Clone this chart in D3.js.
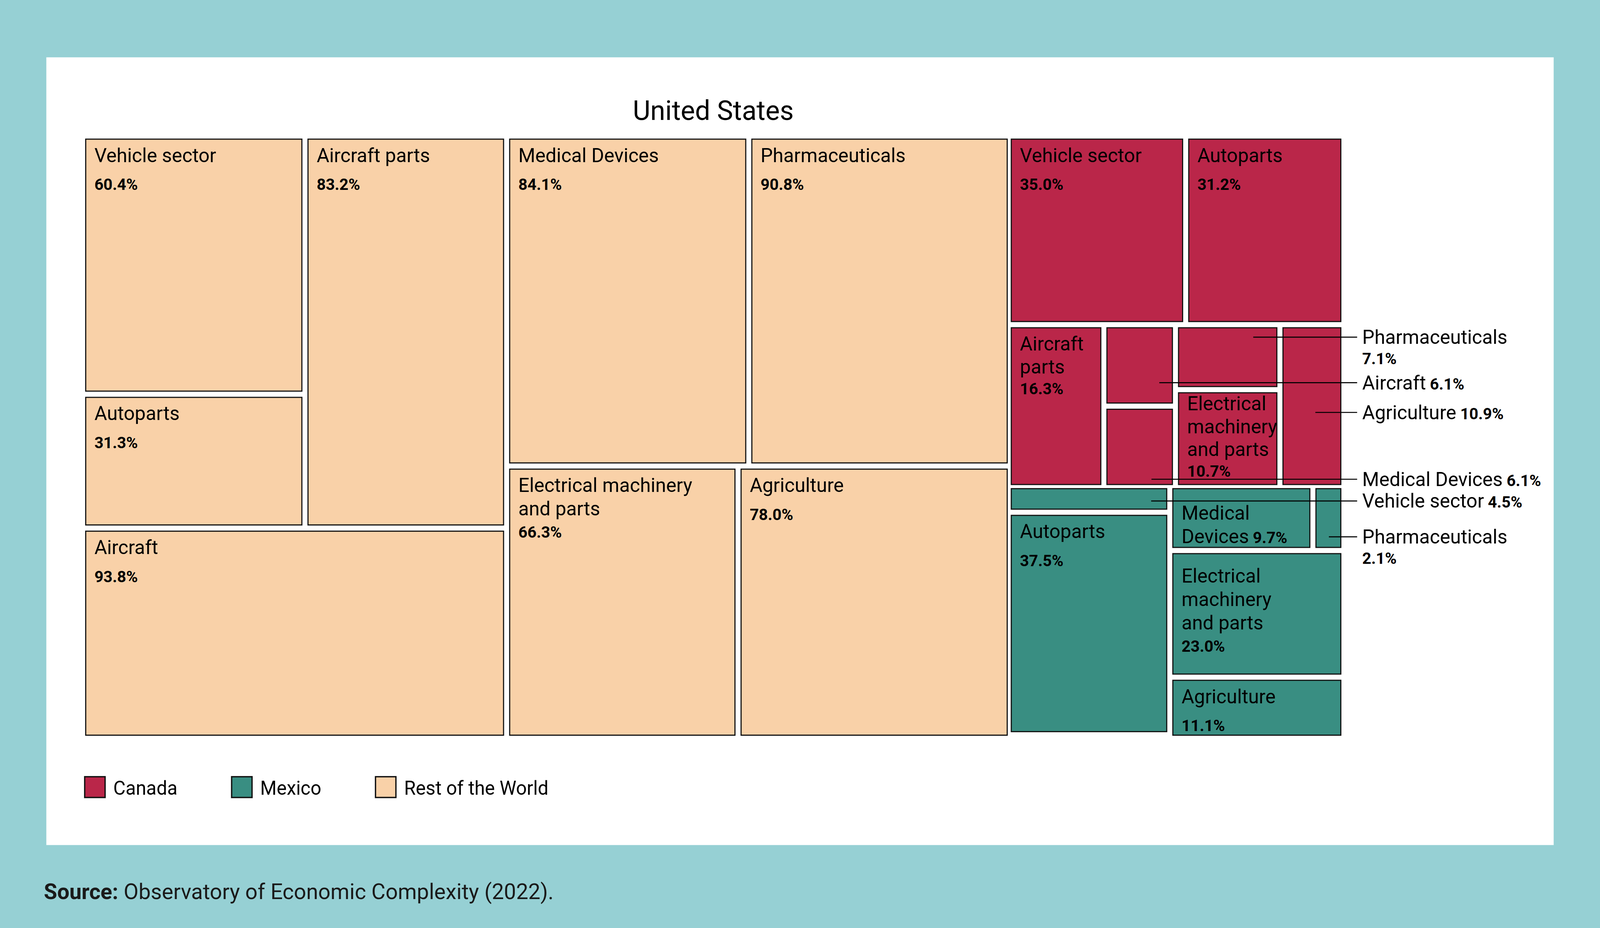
<!DOCTYPE html>
<html><head><meta charset="utf-8">
<script src="https://cdn.jsdelivr.net/npm/d3@7"></script>
<style>html,body{margin:0;padding:0;background:#96D0D4;overflow:hidden;width:100%;height:100%;} svg{display:block;}</style>
</head><body>
<svg id="chart"></svg>
<script>
// ---------------- DATA ----------------
const title = "United States";
const groups = ["Rest of the World", "Canada", "Mexico"];
const sectors = ["Vehicle sector", "Autoparts", "Aircraft parts", "Aircraft", "Medical Devices", "Pharmaceuticals", "Electrical machinery and parts", "Agriculture"];
const restOfWorldShare = [60.4, 31.3, 83.2, 93.8, 84.1, 90.8, 66.3, 78.0];
const canadaShare      = [35.0, 31.2, 16.3, 6.1, 6.1, 7.1, 10.7, 10.9];
const mexicoShare      = [4.5, 37.5, 0.5, 0.1, 9.7, 2.1, 23.0, 11.1];
const groupColors = ["#F9D1A8", "#BA2649", "#398E82"];
const legendOrder = ["Canada", "Mexico", "Rest of the World"];
const sourceBold = "Source:";
const sourceText = " Observatory of Economic Complexity (2022).";

// label wrapping (text content)
const wrapped = {
  "Rest of the World|Electrical machinery and parts": ["Electrical machinery", "and parts"],
  "Canada|Aircraft parts": ["Aircraft", "parts"],
  "Canada|Electrical machinery and parts": ["Electrical", "machinery", "and parts"],
  "Mexico|Medical Devices": ["Medical", "Devices"],
  "Mexico|Electrical machinery and parts": ["Electrical", "machinery", "and parts"]
};
const inlinePct = {"Mexico|Medical Devices": true};

// ---------------- LAYOUT ----------------
const W = 1568, H = 1568 * 2375 / 4167;
const vw = window.innerWidth || 4167, vh = window.innerHeight || 2375;
const svg = d3.select("#chart")
  .attr("width", vw).attr("height", vh)
  .attr("viewBox", `0 0 ${W} ${H}`)
  .attr("preserveAspectRatio", "none")
  .style("font-family", "Roboto, 'Noto Sans', sans-serif");

svg.append("rect").attr("width", W).attr("height", H).attr("fill", "#96D0D4");
svg.append("rect").attr("x", 45.4).attr("y", 55.2).attr("width", 1522.6 - 45.4).attr("height", 813.8 - 55.2).attr("fill", "#fff");

svg.append("text").attr("x", 699).attr("y", 115.5).attr("text-anchor", "middle")
  .attr("font-size", 26.5).attr("fill", "#000").text(title);

const TX = 84, TY = 134, TW = 1230, TH = 574;
const shares = [restOfWorldShare, canadaShare, mexicoShare];
const rootData = {
  name: title,
  children: groups.map((g, gi) => ({
    name: g,
    children: sectors.map((s, si) => ({ name: s, group: g, gi, value: shares[gi][si] }))
  }))
};
const root = d3.hierarchy(rootData).sum(d => d.value || 0);
d3.treemap().tile(d3.treemapBinary).size([TW, TH])
  .paddingInner(d => d.depth === 0 ? 4 : 6)(root);

const g = svg.append("g").attr("transform", `translate(${TX},${TY})`);
const leaves = root.leaves().filter(d => (d.x1 - d.x0) > 1 && (d.y1 - d.y0) > 1);

g.selectAll("rect.cell").data(leaves).enter().append("rect")
  .attr("class", "cell")
  .attr("x", d => d.x0).attr("y", d => d.y0)
  .attr("width", d => d.x1 - d.x0).attr("height", d => d.y1 - d.y0)
  .attr("fill", d => groupColors[d.data.gi])
  .attr("stroke", "#111").attr("stroke-width", 1.1);

const fmt = v => v.toFixed(1) + "%";
const NAME_FS = 19, PCT_FS = 15.5;

// callouts for small cells: anchor fraction inside the cell, whether pct goes on next line
const callouts = {
  "Canada|Pharmaceuticals": { fx: 0.76, fy: 0.16, twoLine: true },
  "Canada|Aircraft": { fx: 0.8, fy: 0.73, twoLine: false },
  "Canada|Agriculture": { fx: 0.56, fy: 0.54, twoLine: false },
  "Canada|Medical Devices": { fx: 0.68, fy: 0.93, twoLine: false },
  "Mexico|Vehicle sector": { fx: 0.9, fy: 0.6, twoLine: false },
  "Mexico|Pharmaceuticals": { fx: 0.52, fy: 0.82, twoLine: true }
};
const nudge = { "Mexico|Medical Devices": 8, "Mexico|Electrical machinery and parts": 6, "Canada|Electrical machinery and parts": -5 };
const tight = { "Canada|Electrical machinery and parts": true, "Canada|Aircraft parts": true };

leaves.forEach(d => {
  const key = d.data.group + "|" + d.data.name;
  if (callouts[key]) return;
  const lines = wrapped[key] || [d.data.name];
  const x = d.x0 + 8.5;
  const step = tight[key] ? 22 : 22.5;
  let y = d.y0 + 22 + (nudge[key] || 0);
  const t = g.append("text").attr("fill", "#000");
  lines.forEach((ln, i) => {
    t.append("tspan").attr("x", x).attr("y", y).attr("font-size", NAME_FS).text(ln);
    if (i === lines.length - 1 && inlinePct[key]) {
      t.append("tspan").attr("font-size", PCT_FS).attr("font-weight", 700).text(" " + fmt(d.data.value));
    }
    if (i < lines.length - 1) y += step;
  });
  if (!inlinePct[key]) {
    y += lines.length > 1 ? (tight[key] ? 20 : 21.5) : 27;
    t.append("tspan").attr("x", x).attr("y", y).attr("font-size", PCT_FS).attr("font-weight", 700).text(fmt(d.data.value));
  }
});

// callouts
const CALL_LINE_END = TW + 16, CALL_TEXT_X = TW + 21;
leaves.forEach(d => {
  const key = d.data.group + "|" + d.data.name;
  const c = callouts[key];
  if (!c) return;
  const ax = d.x0 + c.fx * (d.x1 - d.x0);
  const ay = d.y0 + c.fy * (d.y1 - d.y0);
  g.append("line").attr("x1", ax).attr("x2", CALL_LINE_END).attr("y1", ay).attr("y2", ay)
    .attr("stroke", "#000").attr("stroke-width", 1);
  const t = g.append("text").attr("fill", "#000");
  t.append("tspan").attr("x", CALL_TEXT_X).attr("y", ay + 6.5).attr("font-size", NAME_FS).text(d.data.name);
  if (c.twoLine) {
    t.append("tspan").attr("x", CALL_TEXT_X).attr("y", ay + 26).attr("font-size", PCT_FS).attr("font-weight", 700).text(fmt(d.data.value));
  } else {
    t.append("tspan").attr("font-size", PCT_FS).attr("font-weight", 700).text(" " + fmt(d.data.value));
  }
});

// legend
const legX = [83, 227, 368];
legendOrder.forEach((name, i) => {
  const gi = groups.indexOf(name);
  svg.append("rect").attr("x", legX[i]).attr("y", 748).attr("width", 20).attr("height", 20)
    .attr("fill", groupColors[gi]).attr("stroke", "#111").attr("stroke-width", 1.3);
  svg.append("text").attr("x", legX[i] + 28).attr("y", 765.5).attr("font-size", 18.5).attr("fill", "#000").text(name);
});

// source
const st = svg.append("text").attr("x", 43).attr("y", 866).attr("font-size", 21.2).attr("fill", "#1a1a1a");
st.append("tspan").attr("font-weight", 700).text(sourceBold);
st.append("tspan").text(sourceText);
</script>
</body></html>
